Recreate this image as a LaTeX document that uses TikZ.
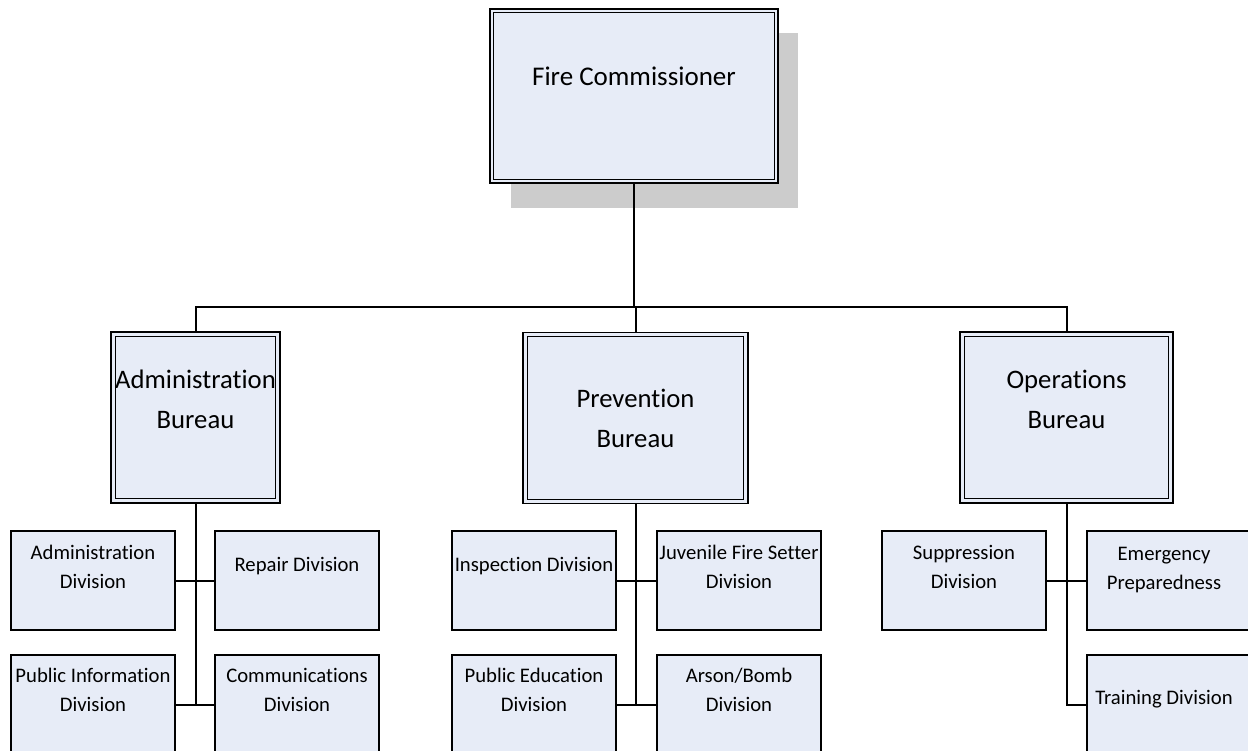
\documentclass[tikz,border=0pt]{standalone}
\usepackage{fontspec}
\setmainfont{Carlito}[Ligatures={NoCommon}]
\definecolor{boxfill}{RGB}{231,236,247}
\definecolor{shadowc}{RGB}{204,204,204}
\tikzset{
  x=1pt, y=-1pt,
  box/.style={draw=black, line width=1.3pt, fill=boxfill, rectangle, inner sep=0pt},
  chiefbox/.style={box, minimum width=288pt, minimum height=174pt},
  bureaubox/.style={box, minimum height=171pt},
  divbox/.style={box, minimum width=164pt, minimum height=99pt},
  innerline/.style={draw=black, line width=1.1pt},
  conn/.style={draw=black, line width=2pt},
  divtext/.style={inner sep=0pt, align=center, font=\fontsize{20.7}{29}\selectfont},
  burtext/.style={inner sep=0pt, align=center, font=\fontsize{26.7}{40}\selectfont},
  chieftext/.style={inner sep=0pt, align=center, font=\fontsize{27}{33}\selectfont},
}
\begin{document}
\begin{tikzpicture}
\useasboundingbox[fill=white] (0,0) rectangle (1248,750);

% shadow and chief
\fill[shadowc] (511,33) rectangle (798,208);
\node[chiefbox] (fc) at (634,96) {};
\draw[innerline] ([shift={(4,4)}]fc.north west) rectangle ([shift={(-4,-4)}]fc.south east);
\node[chieftext] (fct) at (634,76) {Fire Commissioner};

% bureaus
\node[bureaubox, minimum width=169pt] (adm) at (195.5,417.5) {};
\node[bureaubox, minimum width=225pt] (prev) at (635.5,418) {};
\node[bureaubox, minimum width=213pt] (ops) at (1066.5,417.5) {};
\foreach \b in {adm,prev,ops}{
  \draw[innerline] ([shift={(5,5)}]\b.north west) rectangle ([shift={(-5,-5)}]\b.south east);
}
\node[burtext] (admt) at (195.5,399) {Administration\\Bureau};
\node[burtext] (prevt) at (635.5,418) {Prevention\\Bureau};
\node[burtext] (opst) at (1066.5,399) {Operations\\Bureau};

% divisions
\node[divbox] (d1) at (93,580.5) {};
\node[divbox] (d2) at (297,580.5) {};
\node[divbox] (d3) at (93,704.5) {};
\node[divbox] (d4) at (297,704.5) {};
\node[divbox] (p1) at (534,580.5) {};
\node[divbox] (p2) at (739,580.5) {};
\node[divbox] (p3) at (534,704.5) {};
\node[divbox] (p4) at (739,704.5) {};
\node[divbox] (o1) at (964,580.5) {};
\node[divbox] (o2) at (1169,580.5) {};
\node[divbox] (o3) at (1169,704.5) {};

\node[divtext] (d1t) at (93,567) {Administration\\Division};
\node[divtext] (d2t) at (297,566) {Repair Division};
\node[divtext] (d3t) at (93,690) {Public Information\\Division};
\node[divtext] (d4t) at (297,690) {Communications\\Division};
\node[divtext] (p1t) at (534,566) {Inspection Division};
\node[divtext] (p2t) at (739,567) {Juvenile Fire Setter\\Division};
\node[divtext] (p3t) at (534,690) {Public Education\\Division};
\node[divtext] (p4t) at (739,690) {Arson/Bomb\\Division};
\node[divtext] (o1t) at (964,567) {Suppression\\Division};
\node[divtext] (o2t) at (1164,570) {Emergency\\Preparedness};
\node[divtext] (o3t) at (1164,699) {Training Division};

% connectors top
\coordinate (bus) at (634,307);
\draw[conn] (fc.south) -- (bus);
\draw[conn] (adm.north) |- (bus) -| (ops.north);
\draw[conn] (prev.north) -- (prev.north |- bus);

% connectors bottom
\draw[conn] (adm.south) -- (adm.south |- d3.east);
\draw[conn] (d1.east) -- (d2.west);
\draw[conn] (d3.east) -- (d4.west);
\draw[conn] (prev.south) -- (prev.south |- p3.east);
\draw[conn] (p1.east) -- (p2.west);
\draw[conn] (p3.east) -- (p4.west);
\draw[conn] (ops.south) |- (o3.west);
\draw[conn] (o1.east) -- (o2.west);
\end{tikzpicture}
\end{document}
